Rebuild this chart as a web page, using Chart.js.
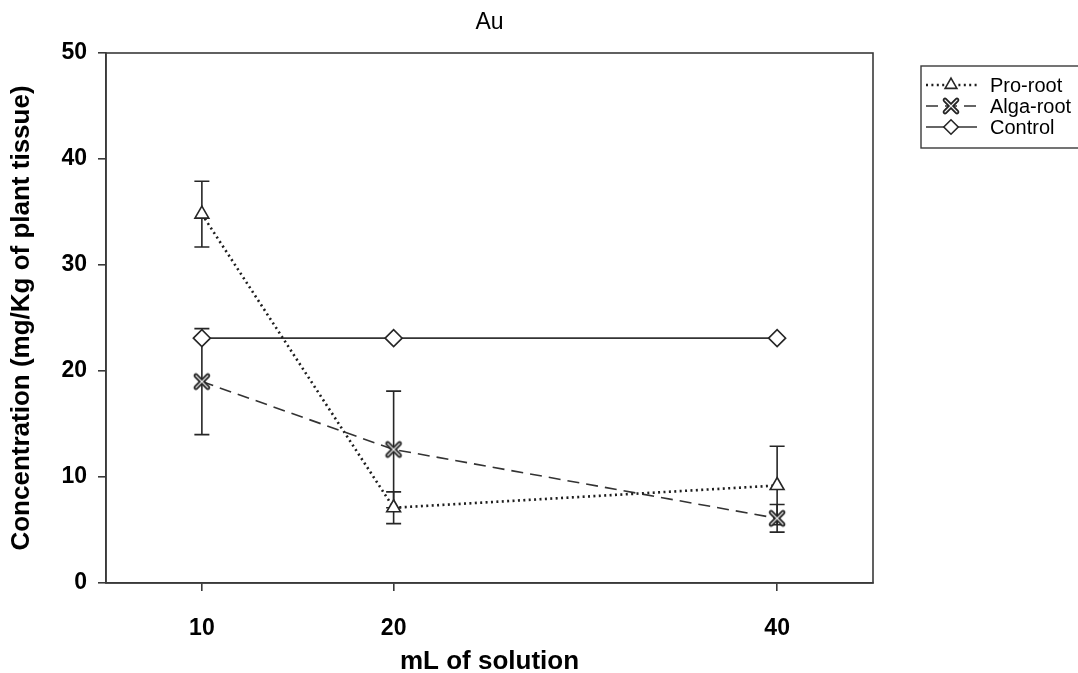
<!DOCTYPE html>
<html>
<head>
<meta charset="utf-8">
<title>Au</title>
<script src="https://cdn.jsdelivr.net/npm/chart.js@4.4.1/dist/chart.umd.min.js"></script>
<style>
  html, body { margin: 0; padding: 0; background: #fff; }
  #wrap { width: 1078px; height: 673px; position: relative; }
</style>
</head>
<body>
<div id="wrap"><canvas id="chart"></canvas></div>
<script>
// values
const volumes = [10, 20, 40];
const proRoot = [34.8, 7.1, 9.2];
const proRootErr = [3.1, 1.5, 3.7];
const algaRoot = [19.0, 12.6, 6.1];
const algaRootErr = [5.0, 5.5, 1.3];
const control = [23.1, 23.1, 23.1];
const yTicks = [0, 10, 20, 30, 40, 50];
const seriesNames = ['Pro-root', 'Alga-root', 'Control'];

const FONT = 'Liberation Sans, Arial, Helvetica, sans-serif';
const INK = '#262626';

const toPoints = (ys) => volumes.map((v, i) => ({ x: v, y: ys[i] }));

// outlined "x" marker like the SigmaPlot one
const makeCross = () => {
    const c = document.createElement('canvas');
    c.width = 20; c.height = 20;
    const g = c.getContext('2d');
    g.lineCap = 'round';
    const path = () => {
        g.beginPath();
        g.moveTo(4, 4); g.lineTo(16, 16);
        g.moveTo(16, 4); g.lineTo(4, 16);
    };
    path(); g.strokeStyle = '#222'; g.lineWidth = 4.6; g.stroke();
    path(); g.strokeStyle = '#f2f2f2'; g.lineWidth = 1.1; g.stroke();
    return c;
};
const crossMarker = makeCross();

// vertical error bars with caps, drawn under the markers
const errorBars = {
    id: 'errorBars',
    beforeDatasetsDraw(chart) {
        const { ctx, scales: { x, y } } = chart;
        ctx.save();
        ctx.strokeStyle = INK;
        ctx.lineWidth = 1.6;
        chart.data.datasets.forEach(ds => {
            if (!ds.errors) return;
            ds.data.forEach((p, i) => {
                const e = ds.errors[i];
                const px = x.getPixelForValue(p.x);
                const top = y.getPixelForValue(p.y + e);
                const bot = y.getPixelForValue(p.y - e);
                ctx.beginPath();
                ctx.moveTo(px, top); ctx.lineTo(px, bot);
                ctx.moveTo(px - 7.5, top); ctx.lineTo(px + 7.5, top);
                ctx.moveTo(px - 7.5, bot); ctx.lineTo(px + 7.5, bot);
                ctx.stroke();
            });
        });
        ctx.restore();
    }
};

// frame round the plot, title over the plot, boxed legend on the right
const decorations = {
    id: 'decorations',
    afterDraw(chart) {
        const { ctx, chartArea: a } = chart;
        ctx.save();
        ctx.strokeStyle = '#3a3a3a';
        ctx.lineWidth = 1.6;
        ctx.strokeRect(a.left, a.top, a.right - a.left, a.bottom - a.top);

        ctx.fillStyle = '#000';
        ctx.font = `23px ${FONT}`;
        ctx.textAlign = 'center';
        ctx.textBaseline = 'middle';
        ctx.fillText('Au', (a.left + a.right) / 2, 23);

        // legend
        ctx.strokeStyle = '#3a3a3a';
        ctx.lineWidth = 1.4;
        ctx.strokeRect(921, 66, 200, 82);
        ctx.font = `20px ${FONT}`;
        ctx.textAlign = 'left';
        chart.data.datasets.forEach((ds, i) => {
            const yy = 85 + i * 21;
            ctx.save();
            ctx.strokeStyle = ds.borderColor;
            ctx.lineWidth = ds.borderWidth;
            ctx.setLineDash(ds.borderDash || []);
            ctx.beginPath();
            ctx.moveTo(926, yy); ctx.lineTo(977, yy);
            ctx.stroke();
            ctx.restore();
            ctx.save();
            ctx.fillStyle = ds.pointBackgroundColor;
            ctx.strokeStyle = ds.pointBorderColor;
            ctx.lineWidth = ds.pointBorderWidth;
            Chart.helpers.drawPoint(ctx, {
                pointStyle: ds.pointStyle,
                radius: ds.pointRadius * 0.85,
                rotation: 0,
                borderWidth: ds.pointBorderWidth
            }, 951, yy);
            ctx.restore();
            ctx.fillStyle = '#000';
            ctx.fillText(seriesNames[i], 990, yy + 1);
        });
        ctx.restore();
    }
};

const axisGrid = {
    display: true,
    drawOnChartArea: false,
    drawTicks: true,
    tickLength: 8,
    color: '#3a3a3a',
    lineWidth: 1.6
};

new Chart(document.querySelector('#chart'), {
    type: 'line',
    data: {
        datasets: [
            {
                label: seriesNames[0],
                data: toPoints(proRoot),
                errors: proRootErr,
                borderColor: '#1e1e1e',
                borderWidth: 2.6,
                borderDash: [2, 3.4],
                pointStyle: 'triangle',
                pointRadius: 8,
                pointBackgroundColor: '#fff',
                pointBorderColor: INK,
                pointBorderWidth: 1.6
            },
            {
                label: seriesNames[1],
                data: toPoints(algaRoot),
                errors: algaRootErr,
                borderColor: '#333',
                borderWidth: 1.6,
                borderDash: [12, 7],
                pointStyle: crossMarker,
                pointRadius: 10,
                pointBackgroundColor: '#fff',
                pointBorderColor: INK,
                pointBorderWidth: 1
            },
            {
                label: seriesNames[2],
                data: toPoints(control),
                borderColor: '#333',
                borderWidth: 1.6,
                pointStyle: 'rectRot',
                pointRadius: 8.5,
                pointBackgroundColor: '#fff',
                pointBorderColor: INK,
                pointBorderWidth: 1.6
            }
        ]
    },
    options: {
        responsive: true,
        maintainAspectRatio: false,
        animation: false,
        layout: { padding: { top: 53, right: 205, bottom: 0, left: 0 } },
        elements: { line: { tension: 0, fill: false } },
        plugins: {
            legend: { display: false },
            tooltip: { enabled: false },
            title: { display: false }
        },
        scales: {
            x: {
                type: 'linear',
                min: 5,
                max: 45,
                afterBuildTicks: s => { s.ticks = volumes.map(v => ({ value: v })); },
                afterFit: s => { s.height = 90; },
                grid: axisGrid,
                border: { display: true, color: '#3a3a3a', width: 1.6 },
                ticks: {
                    color: '#000',
                    padding: 24,
                    font: { family: FONT, size: 23, weight: 'bold' }
                },
                title: {
                    display: true,
                    text: 'mL of solution',
                    color: '#000',
                    padding: { top: 0, bottom: -4 },
                    font: { family: FONT, size: 26, weight: 'bold' }
                }
            },
            y: {
                min: 0,
                max: 50,
                afterBuildTicks: s => { s.ticks = yTicks.map(v => ({ value: v })); },
                afterFit: s => { s.width = 106; },
                grid: axisGrid,
                border: { display: true, color: '#3a3a3a', width: 1.6 },
                ticks: {
                    color: '#000',
                    padding: 11,
                    font: { family: FONT, size: 23, weight: 'bold' }
                },
                title: {
                    display: true,
                    text: 'Concentration (mg/Kg of plant tissue)',
                    color: '#000',
                    padding: { top: 6, bottom: 0 },
                    font: { family: FONT, size: 26, weight: 'bold' }
                }
            }
        }
    },
    plugins: [errorBars, decorations]
});
</script>
</body>
</html>
